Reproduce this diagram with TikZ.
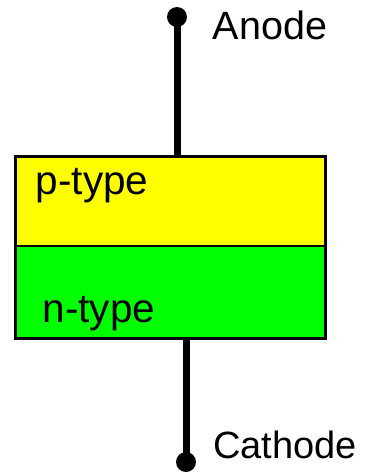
\documentclass[tikz,border=0pt]{standalone}
\usepackage{fontspec}
\setmainfont{Liberation Sans}
\definecolor{ptypeyellow}{RGB}{255,255,0}
\definecolor{ntypegreen}{RGB}{0,255,0}
\begin{document}
\begin{tikzpicture}[x=1pt,y=-1pt,
  layer/.style={draw=black,line width=2pt,minimum width=310pt,inner sep=0pt,outer sep=0pt,anchor=north west},
  lbl/.style={anchor=base west,inner sep=0pt},
  term/.style={circle,fill=black,minimum size=20pt,inner sep=0pt},
  lead/.style={line width=7pt}]
\useasboundingbox (0,0) rectangle (372,472);
\node[term] (a) at (177,17) {};
\node[term] (c) at (186,462) {};
\node[layer,fill=ptypeyellow,minimum height=90pt] (p) at (15,156) {};
\node[layer,fill=ntypegreen,minimum height=92pt] (n) at (15,246) {};
\draw[line width=3pt] (p.north west) rectangle (n.south east);
\draw[lead] (a.center) -- (a.center |- p.north);
\draw[lead] (n.south -| c.center) -- (c.center);
\node[lbl,font=\fontsize{40.5}{44}\selectfont] (ptxt) at (35.6,194) {p-type};
\node[lbl,font=\fontsize{40.5}{44}\selectfont] (ntxt) at (42.3,322.5) {n-type};
\node[lbl,font=\fontsize{39.5}{43}\selectfont] (atxt) at (212.7,39.3) {Anode};
\node[lbl,font=\fontsize{38}{42}\selectfont] (ctxt) at (213,458.3) {Cathode};
\end{tikzpicture}
\end{document}
